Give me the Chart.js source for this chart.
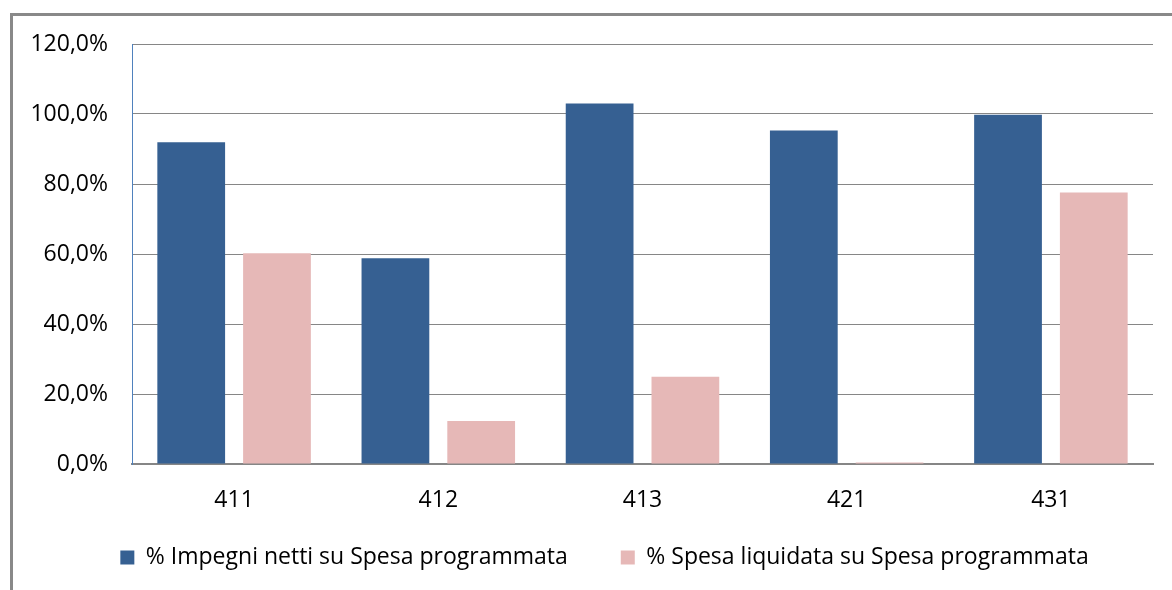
<!DOCTYPE html>
<html>
<head>
<meta charset="utf-8">
<script src="https://cdn.jsdelivr.net/npm/chart.js@4/dist/chart.umd.min.js"></script>
<style>
  html, body { margin: 0; padding: 0; background: #fff; }
  #wrap { position: relative; width: 1172px; height: 590px; overflow: hidden; }
  #frame { position: absolute; left: 10px; top: 13px; width: 2000px; height: 2000px;
           border-left: 3px solid #898989; border-top: 3px solid #898989; }
  canvas { position: absolute; left: 0; top: 0; }
</style>
</head>
<body>
<div id="wrap">
  <div id="frame"></div>
  <canvas id="chart" width="1172" height="590"></canvas>
</div>
<script>
const categories = ["411", "412", "413", "421", "431"];
const impegni = [91.9, 58.8, 103.0, 95.3, 99.8];
const liquidata = [60.2, 12.3, 24.9, 0.4, 77.6];
const seriesNames = ["% Impegni netti su Spesa programmata", "% Spesa liquidata su Spesa programmata"];

const font = { family: "'Open Sans', sans-serif", size: 23 };

// the legend sits closer to the axis labels and a bit right of where Chart.js puts it
const moveLegend = {
  id: "moveLegend",
  afterLayout(c) {
    const lg = c.legend;
    lg.top -= 23;
    lg.bottom = c.height;
    lg.left += 22;
    lg.right += 22;
  }
};

new Chart(document.getElementById("chart"), {
  type: "bar",
  data: {
    labels: categories,
    datasets: [
      { label: seriesNames[0], data: impegni, backgroundColor: "#366092",
        categoryPercentage: 0.84, barPercentage: 0.79 },
      { label: seriesNames[1], data: liquidata, backgroundColor: "#e6b8b7",
        categoryPercentage: 0.84, barPercentage: 0.79 }
    ]
  },
  plugins: [moveLegend],
  options: {
    responsive: false,
    animation: false,
    layout: { padding: { left: 12, top: 44, right: 19, bottom: 0 } },
    plugins: {
      tooltip: { enabled: false },
      legend: {
        position: "bottom",
        maxHeight: 74,
        labels: { boxWidth: 14, boxHeight: 14, padding: 53, color: "#000", font: font }
      }
    },
    scales: {
      x: {
        grid: { display: false, drawTicks: false },
        border: { color: "#868686", width: 2 },
        ticks: { color: "#000", font: font, padding: 23 },
        afterFit: s => { s.height = 52; }
      },
      y: {
        min: 0, max: 120,
        ticks: { stepSize: 20, color: "#000", font: font, padding: 24,
          callback: v => v.toFixed(1).replace(".", ",") + "%" },
        grid: { color: "#868686", lineWidth: 1, drawTicks: false },
        border: { color: "#4f81bd", width: 1 },
        afterFit: s => { s.width = 120; }
      }
    }
  }
});
</script>
</body>
</html>
